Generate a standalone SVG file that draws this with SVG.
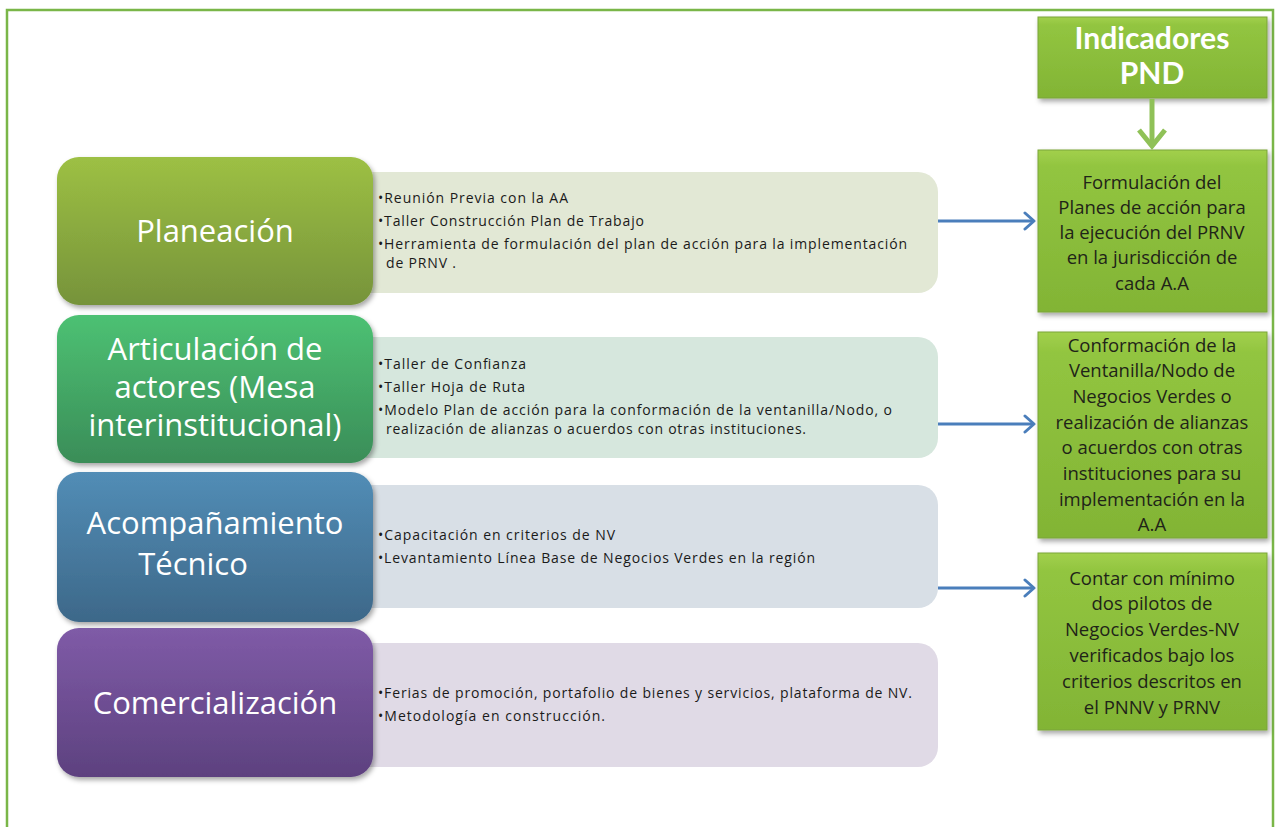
<svg xmlns="http://www.w3.org/2000/svg" width="1275" height="827" viewBox="0 0 1275 827">
<defs>
<linearGradient id="gPlan" x1="0" y1="0" x2="0" y2="1"><stop offset="0" stop-color="#9dc044"/><stop offset="1" stop-color="#76933a"/></linearGradient>
<linearGradient id="gArt" x1="0" y1="0" x2="0" y2="1"><stop offset="0" stop-color="#4dc173"/><stop offset="1" stop-color="#3a8d58"/></linearGradient>
<linearGradient id="gAco" x1="0" y1="0" x2="0" y2="1"><stop offset="0" stop-color="#528db6"/><stop offset="1" stop-color="#3d6889"/></linearGradient>
<linearGradient id="gCom" x1="0" y1="0" x2="0" y2="1"><stop offset="0" stop-color="#7f5ba7"/><stop offset="1" stop-color="#5d417f"/></linearGradient>
<linearGradient id="gInd" x1="0" y1="0" x2="0" y2="1"><stop offset="0" stop-color="#a2d04c"/><stop offset="0.1" stop-color="#92c540"/><stop offset="1" stop-color="#82b435"/></linearGradient>
<filter id="sh" x="-10%" y="-10%" width="125%" height="130%"><feDropShadow dx="2" dy="3" stdDeviation="2.5" flood-color="#000" flood-opacity="0.35"/></filter>
<marker id="ab" viewBox="0 0 14 20" refX="12" refY="10" markerWidth="14" markerHeight="20" orient="auto" markerUnits="userSpaceOnUse"><path d="M3,2 L12,10 L3,18" fill="none" stroke="#4a7ebb" stroke-width="3" stroke-linecap="round" stroke-linejoin="round"/></marker>
</defs>
<style>
.big{font-family:"Open Sans","Liberation Sans",sans-serif;font-size:31px;fill:#fff;text-anchor:middle}
.sm{font-family:"Open Sans","Liberation Sans",sans-serif;font-size:14px;fill:#1a1a1a}
.rt{font-family:"Open Sans","Liberation Sans",sans-serif;font-size:18.5px;fill:#1f2418;text-anchor:middle}
.hd{font-family:Lato,"Liberation Sans",sans-serif;font-weight:bold;font-size:30px;fill:#fff;text-anchor:middle}
.gbox{fill:url(#gInd);stroke:#7aa53a;stroke-width:1;filter:url(#sh)}
.blue{stroke:#4a7ebb;stroke-width:3;fill:none}
</style>
<rect x="7" y="10" width="1266" height="830" fill="#fff" stroke="#7ab648" stroke-width="2.5"/>

<g id="light-boxes">
<rect x="340" y="172" width="598" height="121" rx="20" fill="#e2e8d5"/>
<rect x="340" y="337" width="598" height="121" rx="20" fill="#d6e7dd"/>
<rect x="340" y="485" width="598" height="123" rx="20" fill="#d8dfe6"/>
<rect x="340" y="643" width="598" height="124" rx="20" fill="#e0dae6"/>
</g>

<g id="planeacion">
<rect x="57" y="157" width="316" height="148" rx="22" fill="url(#gPlan)" filter="url(#sh)"/>
<text class="big" x="215" y="242">Planeación</text>
</g>
<g id="planeacion-items">
<text class="sm" x="378" y="203" textLength="190" lengthAdjust="spacing">•Reunión Previa con la AA</text>
<text class="sm" x="378" y="226" textLength="266" lengthAdjust="spacing">•Taller Construcción Plan de Trabajo</text>
<text class="sm" x="378" y="249" textLength="529" lengthAdjust="spacing">•Herramienta de formulación del plan de acción para la implementación</text>
<text class="sm" x="386" y="268" textLength="70" lengthAdjust="spacing">de PRNV .</text>
</g>

<g id="articulacion">
<rect x="57" y="315" width="316" height="148" rx="22" fill="url(#gArt)" filter="url(#sh)"/>
<text class="big" x="215" y="360">Articulación de</text>
<text class="big" x="215" y="398">actores (Mesa</text>
<text class="big" x="215" y="436">interinstitucional)</text>
</g>
<g id="articulacion-items">
<text class="sm" x="378" y="369" textLength="148" lengthAdjust="spacing">•Taller de Confianza</text>
<text class="sm" x="378" y="392" textLength="147" lengthAdjust="spacing">•Taller Hoja de Ruta</text>
<text class="sm" x="378" y="415" textLength="514" lengthAdjust="spacing">•Modelo Plan de acción para la conformación de la ventanilla/Nodo, o</text>
<text class="sm" x="386" y="434" textLength="420" lengthAdjust="spacing">realización de alianzas o acuerdos con otras instituciones.</text>
</g>

<g id="acompanamiento">
<rect x="57" y="472" width="316" height="150" rx="22" fill="url(#gAco)" filter="url(#sh)"/>
<text class="big" x="215" y="534">Acompañamiento</text>
<text class="big" x="193" y="575">Técnico</text>
</g>
<g id="acompanamiento-items">
<text class="sm" x="378" y="540" textLength="237" lengthAdjust="spacing">•Capacitación en criterios de NV</text>
<text class="sm" x="378" y="563" textLength="437" lengthAdjust="spacing">•Levantamiento Línea Base de Negocios Verdes en la región</text>
</g>

<g id="comercializacion">
<rect x="57" y="628" width="316" height="149" rx="22" fill="url(#gCom)" filter="url(#sh)"/>
<text class="big" x="215" y="714">Comercialización</text>
</g>
<g id="comercializacion-items">
<text class="sm" x="378" y="698" textLength="534" lengthAdjust="spacing">•Ferias de promoción, portafolio de bienes y servicios, plataforma de NV.</text>
<text class="sm" x="378" y="721" textLength="227" lengthAdjust="spacing">•Metodología en construcción.</text>
</g>

<g id="indicadores">
<rect class="gbox" x="1038" y="17" width="229" height="81"/>
<text class="hd" x="1152" y="49" textLength="155" lengthAdjust="spacingAndGlyphs">Indicadores</text>
<text class="hd" x="1152" y="84">PND</text>
</g>

<g id="formulacion">
<rect class="gbox" x="1038" y="150" width="229" height="162"/>
<text class="rt" x="1152" y="189">Formulación del</text>
<text class="rt" x="1152" y="214">Planes de acción para</text>
<text class="rt" x="1152" y="239">la ejecución del PRNV</text>
<text class="rt" x="1152" y="264">en la jurisdicción de</text>
<text class="rt" x="1152" y="290">cada A.A</text>
</g>

<g id="conformacion">
<rect class="gbox" x="1038" y="332" width="229" height="206"/>
<text class="rt" x="1152" y="352">Conformación de la</text>
<text class="rt" x="1152" y="377">Ventanilla/Nodo de</text>
<text class="rt" x="1152" y="403">Negocios Verdes o</text>
<text class="rt" x="1152" y="429">realización de alianzas</text>
<text class="rt" x="1152" y="454">o acuerdos con otras</text>
<text class="rt" x="1152" y="480">instituciones para su</text>
<text class="rt" x="1152" y="506">implementación en la</text>
<text class="rt" x="1152" y="531">A.A</text>
</g>

<g id="contar">
<rect class="gbox" x="1038" y="553" width="229" height="177"/>
<text class="rt" x="1152" y="585">Contar con mínimo</text>
<text class="rt" x="1152" y="610">dos pilotos de</text>
<text class="rt" x="1152" y="636">Negocios Verdes-NV</text>
<text class="rt" x="1152" y="662">verificados bajo los</text>
<text class="rt" x="1152" y="688">criterios descritos en</text>
<text class="rt" x="1152" y="714">el PNNV y PRNV</text>
</g>

<g id="connectors">
<line x1="1152" y1="99" x2="1152" y2="146" stroke="#8fc157" stroke-width="5"/>
<path d="M1139,130 L1152,146 L1165,130" fill="none" stroke="#8fc157" stroke-width="5" stroke-linejoin="miter"/>
<line class="blue" x1="938" y1="221" x2="1034" y2="221" marker-end="url(#ab)"/>
<line class="blue" x1="938" y1="424" x2="1034" y2="424" marker-end="url(#ab)"/>
<line class="blue" x1="938" y1="588" x2="1034" y2="588" marker-end="url(#ab)"/>
</g>
</svg>
